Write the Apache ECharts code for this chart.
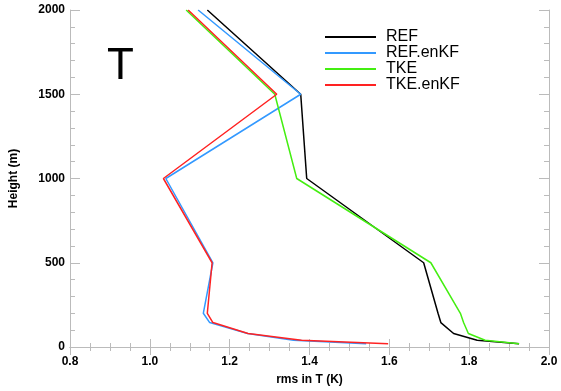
<!DOCTYPE html>
<html>
<head>
<meta charset="utf-8">
<script src="https://cdn.jsdelivr.net/npm/echarts@6/dist/echarts.min.js"></script>
<style>html,body{margin:0;padding:0;background:#fff}#c{width:561px;height:391px}</style>
</head>
<body>
<div id="c"></div>
<script>
var heights = [2000, 1500, 1000, 500, 200, 145, 80, 40, 20];
var seriesNames = ['REF', 'REF.enKF', 'TKE', 'TKE.enKF'];
var REF      = [1.144, 1.378, 1.393, 1.686, 1.722, 1.729, 1.761, 1.820, 1.925];
var REF_enKF = [1.121, 1.378, 1.040, 1.158, 1.134, 1.150, 1.245, 1.360, 1.542];
var TKE      = [1.091, 1.313, 1.368, 1.704, 1.778, 1.786, 1.798, 1.840, 1.925];
var TKE_enKF = [1.096, 1.318, 1.034, 1.156, 1.144, 1.158, 1.246, 1.380, 1.597];
var colors = ['#000000', '#3399ff', '#44ee11', '#ff2222'];
var values = [REF, REF_enKF, TKE, TKE_enKF];

var FONT = '"Liberation Sans", Arial, Helvetica, sans-serif';
var axisGray = '#bbbbbb';

function pairs(v) { return v.map(function (x, i) { return [x, heights[i]]; }); }

var chart = echarts.init(document.getElementById('c'), null, {renderer: 'canvas'});
var xCommon = {
  type: 'value', min: 0.8, max: 2.0, interval: 0.2,
  axisLine: {show: true, lineStyle: {color: axisGray, width: 1}},
  axisTick: {show: true, inside: true, length: 8, lineStyle: {color: axisGray}},
  minorTick: {show: true, splitNumber: 4, length: 4, lineStyle: {color: axisGray}},
  splitLine: {show: false}
};
var yCommon = {
  type: 'value', min: 0, max: 2000, interval: 500,
  axisLine: {show: true, lineStyle: {color: axisGray, width: 1}},
  axisTick: {show: true, inside: true, length: 10, lineStyle: {color: axisGray}},
  minorTick: {show: true, splitNumber: 5, length: 5, lineStyle: {color: axisGray}},
  splitLine: {show: false}
};
var option = {
  animation: false,
  backgroundColor: '#ffffff',
  grid: {left: 67, right: 12, top: 10, bottom: 38, containLabel: false},
  xAxis: [
    Object.assign({}, xCommon, {
      position: 'bottom',
      name: 'rms in T (K)', nameLocation: 'middle', nameGap: 27,
      nameTextStyle: {fontFamily: FONT, fontWeight: 'bold', fontSize: 12, color: '#000'},
      axisLabel: {fontFamily: FONT, fontWeight: 'bold', fontSize: 12, color: '#000', margin: 9,
        formatter: function (v) { return v.toFixed(1); }}
    }),
    Object.assign({}, xCommon, {position: 'top', axisLabel: {show: false}})
  ],
  yAxis: [
    Object.assign({}, yCommon, {
      position: 'left',
      name: 'Height (m)', nameLocation: 'middle', nameGap: 50,
      nameTextStyle: {fontFamily: FONT, fontWeight: 'bold', fontSize: 12, color: '#000'},
      axisLabel: {fontFamily: FONT, fontWeight: 'bold', fontSize: 12, color: '#000', margin: 5,
        formatter: function (v) { return String(v); }}
    }),
    Object.assign({}, yCommon, {position: 'right', axisLabel: {show: false}})
  ],
  legend: {
    orient: 'vertical', left: 325, top: 29, padding: 0,
    icon: 'rect', itemWidth: 51, itemHeight: 2, itemGap: 0,
    textStyle: {fontFamily: FONT, fontSize: 16, color: '#000', lineHeight: 14, padding: [0, 0, 0, 5]},
    data: seriesNames
  },
  graphic: [{
    type: 'text', left: 107, top: 45,
    style: {text: 'T', fontFamily: FONT, fontSize: 44, fill: '#000'}
  }],
  series: values.map(function (v, i) {
    return {
      name: seriesNames[i], type: 'line', data: pairs(v),
      showSymbol: false, symbol: 'none',
      lineStyle: {color: colors[i], width: 1.5},
      itemStyle: {color: colors[i]},
      clip: true
    };
  })
};
chart.setOption(option);
</script>
</body>
</html>
